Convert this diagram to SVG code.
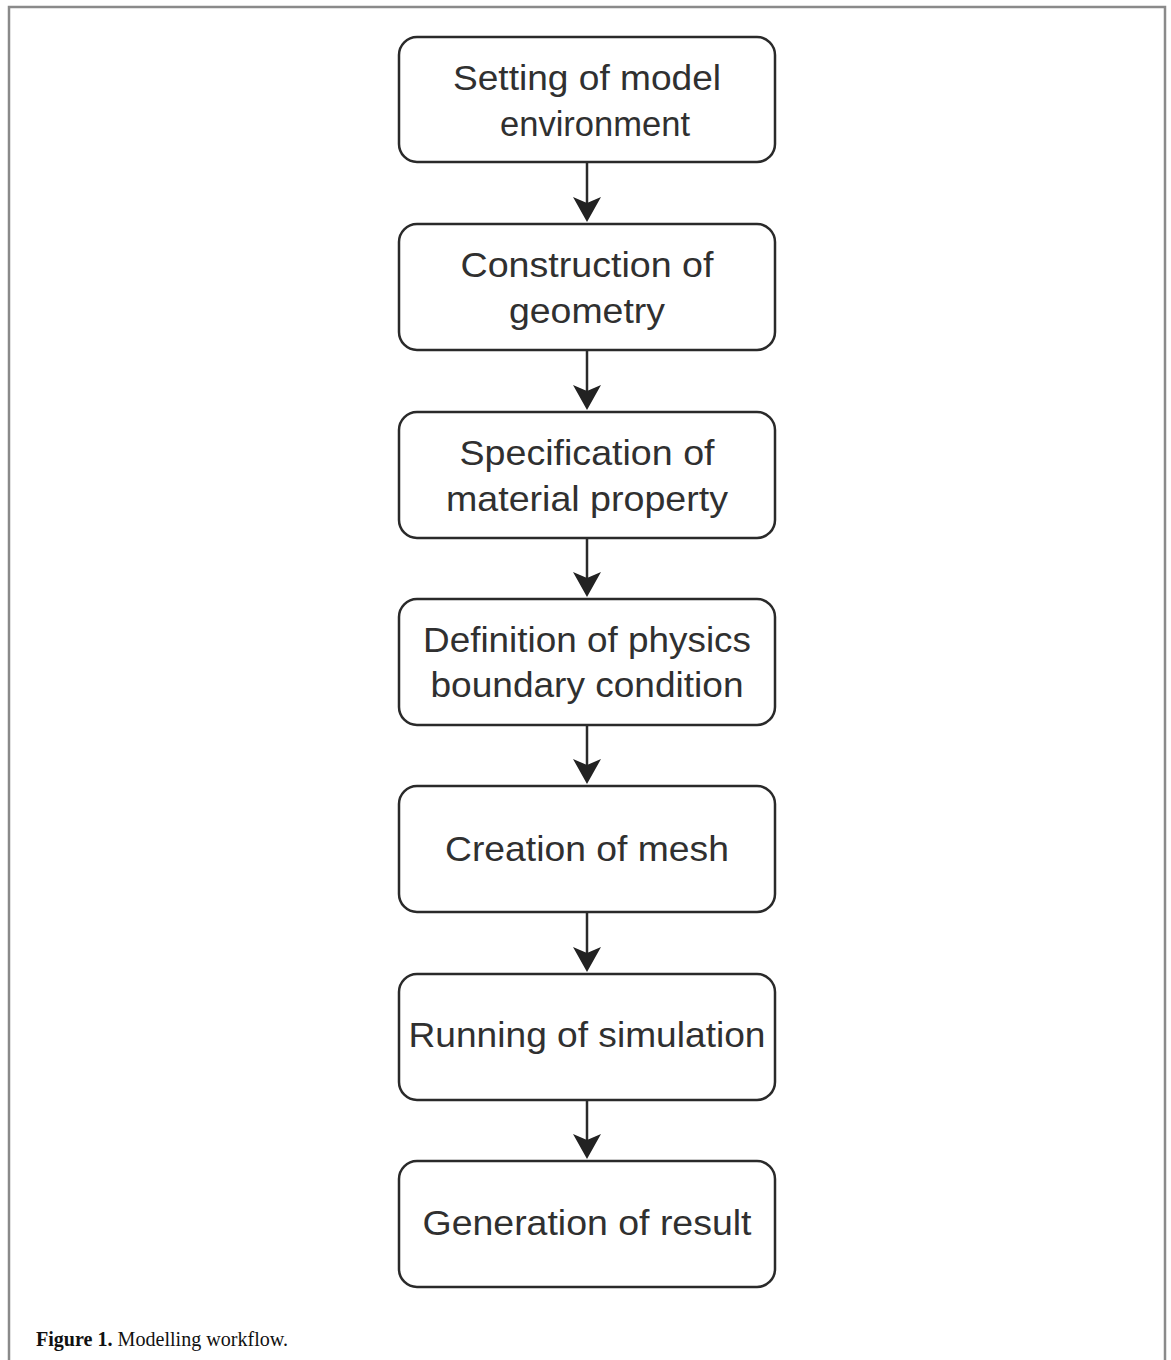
<svg xmlns="http://www.w3.org/2000/svg" width="1171" height="1360" viewBox="0 0 1171 1360">
<defs>
<style>
.box{fill:#fff;stroke:#2a2a2a;stroke-width:2.5}
.t{font-family:"Liberation Sans",Arial,sans-serif;font-size:35px;fill:#303030;text-anchor:middle}
.c{stroke:#2a2a2a;stroke-width:2.5;fill:none}
.cap{font-family:"Liberation Serif","Times New Roman",serif;font-size:21px;fill:#111}
</style>
</defs>
<rect width="1171" height="1360" fill="#fff"/>
<path d="M9,1360 L9,7 L1165,7 L1165,1360" fill="none" stroke="#8a8a8a" stroke-width="2.5"/>
<g id="connectors">
<line class="c" x1="587" y1="162" x2="587" y2="215"/>
<line class="c" x1="587" y1="350" x2="587" y2="403"/>
<line class="c" x1="587" y1="538" x2="587" y2="590"/>
<line class="c" x1="587" y1="725" x2="587" y2="777"/>
<line class="c" x1="587" y1="912" x2="587" y2="965"/>
<line class="c" x1="587" y1="1100" x2="587" y2="1152"/>
<path d="M573,197 L587,222 L601,197 L587,203 Z" fill="#222"/>
<path d="M573,385 L587,410 L601,385 L587,391 Z" fill="#222"/>
<path d="M573,572 L587,597 L601,572 L587,578 Z" fill="#222"/>
<path d="M573,759 L587,784 L601,759 L587,765 Z" fill="#222"/>
<path d="M573,947 L587,972 L601,947 L587,953 Z" fill="#222"/>
<path d="M573,1134 L587,1159 L601,1134 L587,1140 Z" fill="#222"/>
</g>
<g id="n1"><rect class="box" x="399" y="37" width="376" height="125" rx="18"/><text class="t" x="587" y="90" textLength="268" lengthAdjust="spacingAndGlyphs">Setting of model</text><text class="t" x="595" y="136" textLength="190" lengthAdjust="spacingAndGlyphs">environment</text></g>
<g id="n2"><rect class="box" x="399" y="224" width="376" height="126" rx="18"/><text class="t" x="587" y="277" textLength="253" lengthAdjust="spacingAndGlyphs">Construction of</text><text class="t" x="587" y="323" textLength="156" lengthAdjust="spacingAndGlyphs">geometry</text></g>
<g id="n3"><rect class="box" x="399" y="412" width="376" height="126" rx="18"/><text class="t" x="587" y="465" textLength="255" lengthAdjust="spacingAndGlyphs">Specification of</text><text class="t" x="587" y="511" textLength="282" lengthAdjust="spacingAndGlyphs">material property</text></g>
<g id="n4"><rect class="box" x="399" y="599" width="376" height="126" rx="18"/><text class="t" x="587" y="652" textLength="328" lengthAdjust="spacingAndGlyphs">Definition of physics</text><text class="t" x="587" y="697" textLength="313" lengthAdjust="spacingAndGlyphs">boundary condition</text></g>
<g id="n5"><rect class="box" x="399" y="786" width="376" height="126" rx="18"/><text class="t" x="587" y="861" textLength="284" lengthAdjust="spacingAndGlyphs">Creation of mesh</text></g>
<g id="n6"><rect class="box" x="399" y="974" width="376" height="126" rx="18"/><text class="t" x="587" y="1047" textLength="357" lengthAdjust="spacingAndGlyphs">Running of simulation</text></g>
<g id="n7"><rect class="box" x="399" y="1161" width="376" height="126" rx="18"/><text class="t" x="587" y="1235" textLength="329" lengthAdjust="spacingAndGlyphs">Generation of result</text></g>
<text class="cap" x="36" y="1346" textLength="252" lengthAdjust="spacingAndGlyphs"><tspan font-weight="bold">Figure 1.</tspan> Modelling workflow.</text>
</svg>
